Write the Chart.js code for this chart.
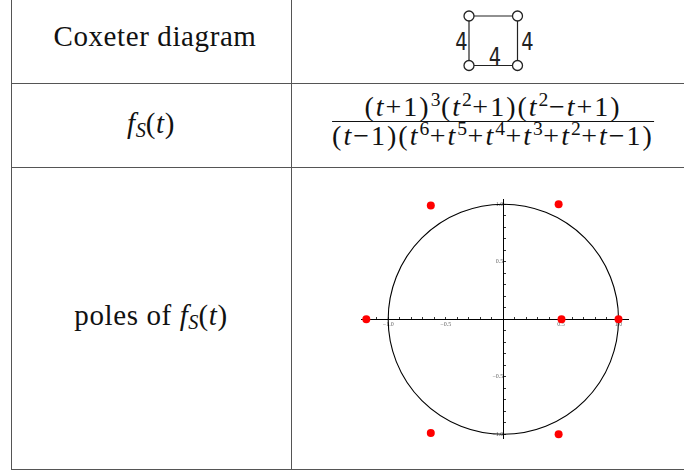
<!DOCTYPE html>
<html>
<head>
<meta charset="utf-8">
<script src="https://cdn.jsdelivr.net/npm/chart.js@4.4.0/dist/chart.umd.min.js"></script>
<style>
  body { margin: 0; width: 684px; height: 472px; background: #fff; position: relative; overflow: hidden;
         font-family: "Liberation Serif", serif; color: #111; }
  .hl { position: absolute; height: 1px; background: #555; left: 11px; right: 0; }
  .vl { position: absolute; width: 1px; background: #555; top: 0; height: 470px; }
  .txt { position: absolute; white-space: nowrap; transform: translateX(-50%);
         font-size: 29px; line-height: 29px; letter-spacing: 0.6px; }
  sub { font-size: 0.7em; font-style: italic; vertical-align: -0.22em; line-height: 0; letter-spacing: 0; }
  .frac { position: absolute; transform: translateX(-50%); display: flex; flex-direction: column;
          align-items: center; font-size: 28px; line-height: 22px; white-space: nowrap; letter-spacing: 2px; }
  .frac sup { font-size: 0.7em; vertical-align: 0.5em; line-height: 0; letter-spacing: 0.5px; }
  .bar { align-self: stretch; height: 1.3px; background: #111; margin: 3px 0 3px 0; }
  #poles { position: absolute; left: 340px; top: 180px; }
</style>
</head>
<body>
<div class="vl" style="left:11px"></div>
<div class="vl" style="left:291px"></div>
<div class="hl" style="top:83px"></div>
<div class="hl" style="top:167px"></div>
<div class="hl" style="top:468.5px; height:1.5px"></div>

<div class="txt" style="left:155px; top:22px">Coxeter diagram</div>
<div class="txt" style="left:151px; top:109px"><i>f</i><sub>S</sub>(<i>t</i>)</div>
<div class="txt" style="left:151px; top:301px">poles of <i>f</i><sub>S</sub>(<i>t</i>)</div>

<svg width="684" height="83" style="position:absolute; left:0; top:0">
  <g stroke="#222" stroke-width="1.2" fill="none">
    <line x1="469" y1="16" x2="517.5" y2="16"/>
    <line x1="469" y1="65.5" x2="517.5" y2="65.5"/>
    <line x1="469" y1="16" x2="469" y2="65.5"/>
    <line x1="517.5" y1="16" x2="517.5" y2="65.5"/>
  </g>
  <g stroke="#222" stroke-width="1.3" fill="#fff">
    <circle cx="469" cy="16" r="5"/>
    <circle cx="517.5" cy="16" r="5"/>
    <circle cx="469" cy="65.5" r="5"/>
    <circle cx="517.5" cy="65.5" r="5"/>
  </g>
  <g font-family="DejaVu Sans Condensed, Liberation Sans Narrow, sans-serif" font-size="24" fill="#222"
     text-anchor="middle" dominant-baseline="central">
    <text transform="translate(461.5 42) scale(0.9 1)">4</text>
    <text transform="translate(527.5 42) scale(0.9 1)">4</text>
    <text transform="translate(495 57) scale(0.9 1)">4</text>
  </g>
</svg>

<div class="frac" style="left:493px; top:96px">
  <div>(<i>t</i>+1)<sup>3</sup>(<i>t</i><sup>2</sup>+1)(<i>t</i><sup>2</sup>−<i>t</i>+1)</div>
  <div class="bar"></div>
  <div>(<i>t</i>−1)(<i>t</i><sup>6</sup>+<i>t</i><sup>5</sup>+<i>t</i><sup>4</sup>+<i>t</i><sup>3</sup>+<i>t</i><sup>2</sup>+<i>t</i>−1)</div>
</div>

<canvas id="poles" width="310" height="280"></canvas>

<script>
// poles of f_S(t) in the complex plane
const poleRe = [-1.19, 0.505, 1.0, -0.63, -0.63, 0.48, 0.48];
const poleIm = [0, 0, 0, 0.99, -0.99, 1.0, -1.0];
const labelTicks = [-1.0, -0.5, 0.5, 1.0];
const unitRadius = 1;

function tickLabel(v) {
    return labelTicks.some(t => Math.abs(t - v) < 1e-6) ? v.toFixed(1).replace('-', '\u2212') : '';
}

// the unit circle, drawn through the chart's own scales
const unitCircle = {
    id: 'unitCircle',
    beforeDatasetsDraw(chart) {
        const { ctx, scales: { x, y } } = chart;
        const cx = x.getPixelForValue(0);
        const cy = y.getPixelForValue(0);
        const rx = x.getPixelForValue(unitRadius) - cx;
        const ry = cy - y.getPixelForValue(unitRadius);
        ctx.save();
        ctx.beginPath();
        ctx.ellipse(cx, cy, rx, ry, 0, 0, 2 * Math.PI);
        ctx.strokeStyle = '#000';
        ctx.lineWidth = 1.1;
        ctx.stroke();
        ctx.restore();
    }
};

const tickFont = { family: 'Liberation Serif', size: 6 };

new Chart(document.getElementById('poles'), {
    type: 'scatter',
    data: {
        datasets: [{
            data: poleRe.map((re, i) => ({ x: re, y: poleIm[i] })),
            pointRadius: 4,
            pointBackgroundColor: '#ff0000',
            pointBorderWidth: 0,
            clip: false
        }]
    },
    options: {
        responsive: false,
        animation: false,
        events: [],
        layout: { padding: { left: 21.7, top: 19.3, right: 21.7, bottom: 21.7 } },
        plugins: { legend: { display: false }, tooltip: { enabled: false } },
        scales: {
            x: {
                type: 'linear',
                position: { y: 0 },
                min: -1.23,
                max: 1.085,
                border: { display: true, color: '#000', width: 1 },
                grid: { drawOnChartArea: false, tickLength: -3, tickColor: '#000', tickWidth: 0.8 },
                ticks: { stepSize: 0.1, includeBounds: false, autoSkip: false, maxRotation: 0,
                         padding: 5, color: '#666', font: tickFont, callback: tickLabel }
            },
            y: {
                type: 'linear',
                position: { x: 0 },
                min: -1.035,
                max: 1.043,
                border: { display: true, color: '#000', width: 1 },
                grid: { drawOnChartArea: false, tickLength: -3, tickColor: '#000', tickWidth: 0.8 },
                ticks: { stepSize: 0.1, includeBounds: false, autoSkip: false,
                         padding: 5, color: '#666', font: tickFont, callback: tickLabel }
            }
        }
    },
    plugins: [unitCircle]
});
</script>
</body>
</html>
